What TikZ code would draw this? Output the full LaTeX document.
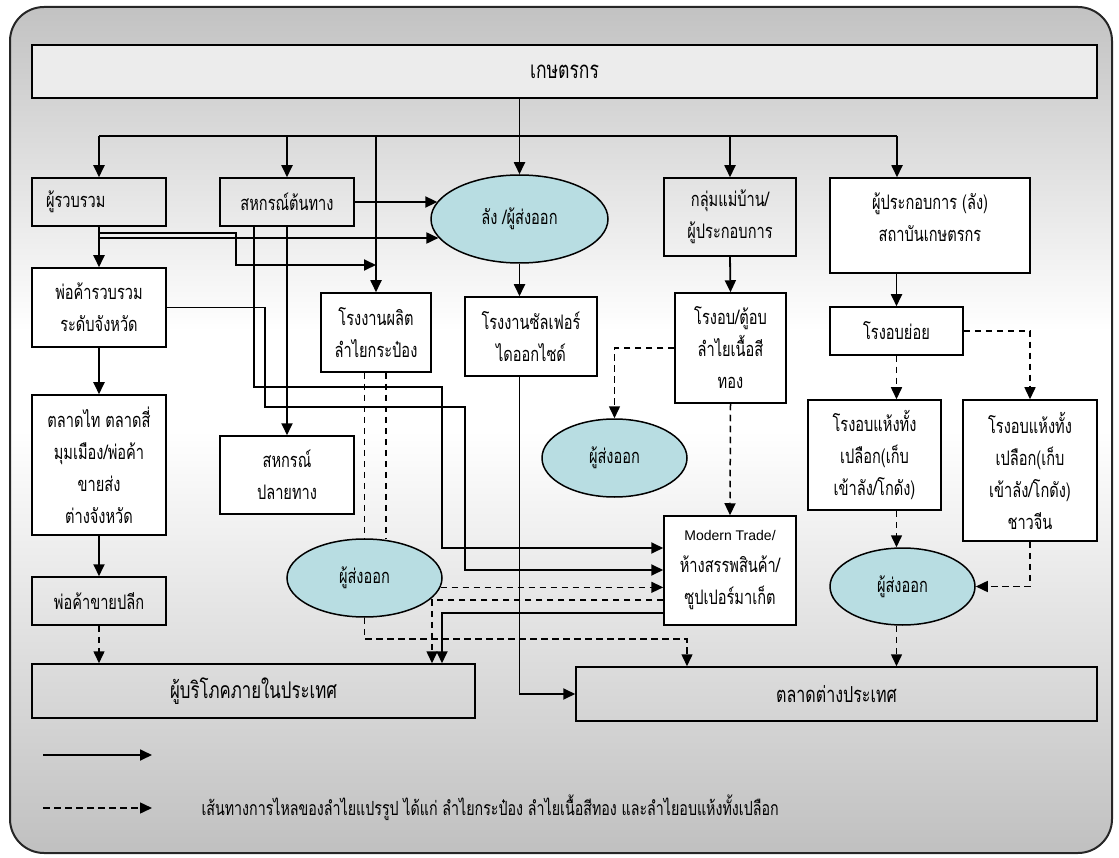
\documentclass[tikz,border=0pt]{standalone}
\usepackage{fontspec}
\newfontfamily\thf[Script=Thai,FakeStretch=0.73]{Loma}
\newfontfamily\latf{Liberation Sans}
\usetikzlibrary{shapes.geometric,arrows.meta,calc}
\definecolor{bgtop}{RGB}{194,194,194}
\definecolor{bgbot}{RGB}{192,192,192}
\definecolor{ellfill}{RGB}{184,221,226}
\definecolor{farmfill}{RGB}{236,236,236}
\tikzset{
  every node/.style={font=\thf\fontsize{20}{32}\selectfont},
  box/.style={draw=black, line width=1.5pt, rectangle, inner sep=0pt, align=center},
  wbox/.style={box, fill=white},
  ell/.style={draw=black, line width=1.5pt, ellipse, fill=ellfill, inner sep=0pt},
  conn/.style={line width=1.8pt},
  arr/.style={conn, -{Triangle[length=12pt,width=11pt]}},
  dconn/.style={line width=1.5pt, dash pattern=on 6.5pt off 4.5pt},
  darr/.style={dconn, -{Triangle[length=12pt,width=11pt]}},
}
\begin{document}
\begin{tikzpicture}[x=1pt,y=-1pt]
\useasboundingbox (0,0) rectangle (1119,858);
% background
\begin{scope}
\clip[rounded corners=34pt] (10,7) rectangle (1112,853);
\shade[top color=bgtop, bottom color=white] (10,7) rectangle (1112,331);
\fill[white] (10,330) rectangle (1112,431);
\shade[top color=white, bottom color=bgbot] (10,430) rectangle (1112,853);
\end{scope}
\draw[line width=2pt, draw=black!85, rounded corners=34pt] (10,7) rectangle (1112,853);

% nodes
\node[box, minimum width=1065pt, minimum height=53pt, fill=farmfill, font=\thf\fontsize{24}{28}\selectfont] (farmer) at (564.5,71.5) {เกษตรกร};
\node[box, minimum width=134pt, minimum height=48pt, text width=106pt, align=left] (ruam) at (99,202) {ผู้รวบรวม};
\node[box, minimum width=134pt, minimum height=48pt] (cop1) at (287,202) {สหกรณ์ต้นทาง};
\node[ell, minimum width=177pt, minimum height=88pt] (lang) at (519.5,219) {ลัง /ผู้ส่งออก};
\node[box, minimum width=132pt, minimum height=78pt] (kl) at (730,217) {กลุ่มแม่บ้าน/\\ผู้ประกอบการ};
\node[wbox, minimum width=200pt, minimum height=95pt] (op) at (930,225.5) {ผู้ประกอบการ (ลัง)\\สถาบันเกษตรกร\\[-16pt]\mbox{}};
\node[wbox, minimum width=134pt, minimum height=79pt] (ptr) at (99,307.5) {พ่อค้ารวบรวม\\ระดับจังหวัด};
\node[wbox, minimum width=110pt, minimum height=79pt] (fcan) at (376,332.5) {โรงงานผลิต\\ลำไยกระป๋อง};
\node[wbox, minimum width=132pt, minimum height=79pt] (so2) at (531,336.5) {โรงงานซัลเฟอร์\\ไดออกไซด์};
\node[wbox, minimum width=111pt, minimum height=110pt] (ob) at (730.5,348) {โรงอบ/ตู้อบ\\ลำไยเนื้อสี\\ทอง};
\node[wbox, minimum width=133pt, minimum height=48pt] (oby) at (896.5,331) {โรงอบย่อย};
\node[ell, minimum width=145pt, minimum height=78pt] (ex1) at (614.5,458) {ผู้ส่งออก};
\node[wbox, minimum width=134pt, minimum height=140pt] (tt) at (99,465) {ตลาดไท ตลาดสี่\\มุมเมือง/พ่อค้า\\ขายส่ง\\ต่างจังหวัด};
\node[wbox, minimum width=134pt, minimum height=78pt] (cop2) at (287,475) {สหกรณ์\\ปลายทาง};
\node[wbox, minimum width=133pt, minimum height=110pt] (dry1) at (874.5,455) {โรงอบแห้งทั้ง\\เปลือก(เก็บ\\เข้าลัง/โกดัง)};
\node[wbox, minimum width=134pt, minimum height=141pt] (dry2) at (1030,470.5) {โรงอบแห้งทั้ง\\เปลือก(เก็บ\\เข้าลัง/โกดัง)\\ชาวจีน};
\node[ell, minimum width=155pt, minimum height=78pt] (ex2) at (364.5,578) {ผู้ส่งออก};
\node[wbox, minimum width=132pt, minimum height=109pt] (mt) at (730,570.5) {{\latf\fontsize{14}{32}\selectfont Modern Trade/}\\ห้างสรรพสินค้า/\\ซูปเปอร์มาเก็ต};
\node[ell, minimum width=145pt, minimum height=77pt] (ex3) at (902.5,586.5) {ผู้ส่งออก};
\node[box, minimum width=134pt, minimum height=48pt] (retail) at (99,601) {พ่อค้าขายปลีก};
\node[box, minimum width=443pt, minimum height=54pt, font=\thf\fontsize{23}{26}\selectfont] (dom) at (253.5,691) {ผู้บริโภคภายในประเทศ};
\node[box, minimum width=521pt, minimum height=54pt, font=\thf\fontsize{22}{26}\selectfont] (frn) at (836.5,694) {ตลาดต่างประเทศ};

% solid connectors
\coordinate (dL) at (99,136);
\coordinate (dR) at (897,136);
\draw[conn] (dL) -- (dR);
\draw[arr] (farmer.south -| lang.north) -- (lang.north);
\draw[arr] (dL) -- (ruam.north);
\draw[arr] (cop1.north |- dL) -- (cop1.north);
\draw[arr] (fcan.north |- dL) -- (fcan.north);
\draw[arr] (kl.north |- dL) -- (kl.north);
\draw[arr] (dR) -- (dR |- op.north);
\draw[arr] (cop1.east) -- (cop1.east -| lang.168);
\coordinate (r1) at (99,233);
\coordinate (r2) at (99,238);
\draw[arr] (ruam.south) -- (ptr.north);
\draw[arr] (r2) -- (r2 -| lang.193);
\draw[arr] (r1) -- (236,233) -- (236,265) -- (fcan.north |- 0,265);
\draw[arr] (ptr.south) -- (tt.north);
\draw[arr] (tt.south) -- (retail.north);
\draw[arr] (cop1.south) -- (cop2.north);
\draw[arr] (254,0 |- cop1.south) -- (254,387) -- (442,387) -- (442,548) -- (mt.west |- 0,548);
\draw[arr] (ptr.east) -- (265,307.5) -- (265,407) -- (465,407) -- (465,570) -- (mt.west |- 0,570);
\draw[arr] (lang.south) -- (so2.north -| lang.south);
\draw[arr] (so2.south -| lang.south) -- (lang.south |- frn.west) -- (frn.west);
\draw[arr] (kl.south) -- (ob.north);
\draw[arr] (oby.north |- op.south) -- (oby.north);
\draw[arr] (mt.west |- 0,613) -- (442,613) -- (442,0 |- dom.north);

% dashed connectors
\draw[darr] (retail.south) -- (retail.south |- dom.north);
\draw[darr] (ob.west) -| (ex1.north);
\draw[darr] (ob.south) -- (mt.north);
\draw[darr] (oby.south) -- (oby.south |- dry1.north);
\draw[darr] (oby.east) -| (dry2.north);
\draw[darr] (oby.south |- dry1.south) -- (oby.south |- ex3.north);
\draw[darr] (dry2.south) |- (ex3.east);
\draw[darr] (oby.south |- ex3.south) -- (oby.south |- frn.north);
\draw[dconn] (fcan.south -| 386,0) -- (ex2.north -| 386,0);
\draw[dconn] (fcan.south -| ex2.north) -- (ex2.north);
\draw[darr] (ex2.south) -- (ex2.south |- 0,639) -- (687,639) -- (687,0 |- frn.north);
\draw[darr] (ex2.353) -- (ex2.353 -| mt.west);
\draw[darr] (mt.west |- 0,600) -- (432,600) -- (432,0 |- dom.north);

% legend
\coordinate (l1a) at (43,755);
\coordinate (l1b) at (152,755);
\coordinate (l2a) at (43,808);
\coordinate (l2b) at (152,808);
\draw[arr] (l1a) -- (l1b);
\draw[darr] (l2a) -- (l2b);
\node[anchor=west, font=\thf\fontsize{19.5}{24}\selectfont] (legtext) at (198,808) {เส้นทางการไหลของลำไยแปรรูป ได้แก่ ลำไยกระป๋อง ลำไยเนื้อสีทอง และลำไยอบแห้งทั้งเปลือก};
\end{tikzpicture}
\end{document}
